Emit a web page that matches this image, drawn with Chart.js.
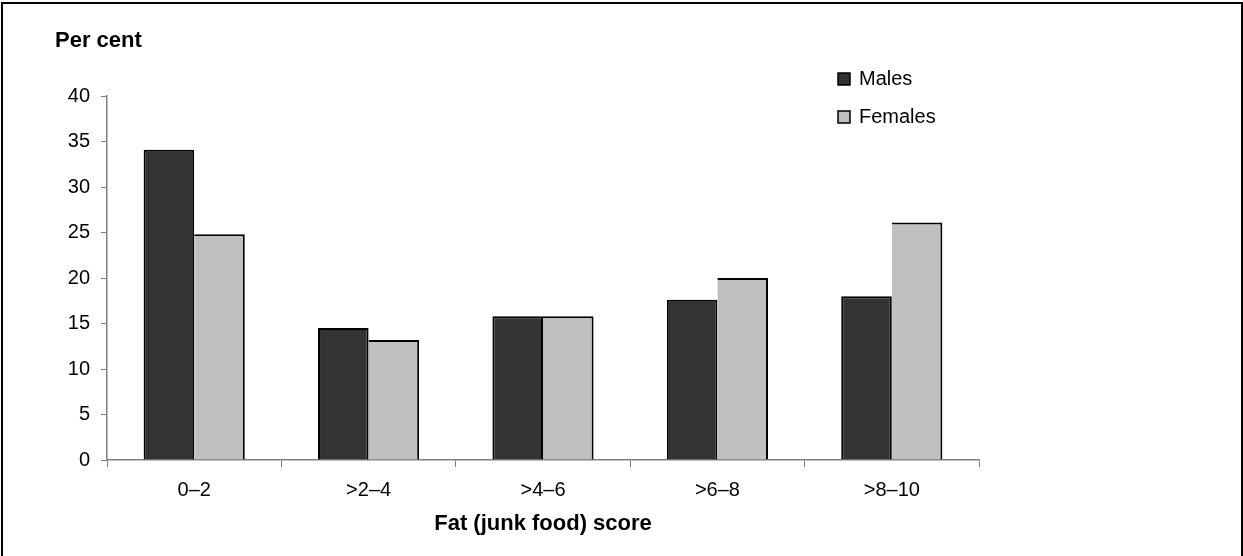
<!DOCTYPE html>
<html>
<head>
<meta charset="utf-8">
<title>Fat (junk food) score</title>
<script src="https://cdn.jsdelivr.net/npm/chart.js@4/dist/chart.umd.min.js"></script>
<style>
  html, body { margin: 0; padding: 0; background: #fff; overflow: hidden; }
  #wrap { position: relative; width: 1243px; height: 556px; }
  #frame { position: absolute; left: 1px; top: 2px; width: 1238px; height: 600px; border: 2px solid #000; box-sizing: content-box; }
  canvas { position: absolute; left: 0; top: 0; }
</style>
</head>
<body>
<div id="wrap">
  <div id="frame"></div>
  <canvas id="chart" width="1243" height="556"></canvas>
</div>
<script>
// data
const categories = ['0–2', '>2–4', '>4–6', '>6–8', '>8–10'];
const males = [34.1, 14.5, 15.8, 17.6, 18.0];
const females = [24.8, 13.2, 15.8, 20.0, 26.1];
const seriesNames = ['Males', 'Females'];
const yTitle = 'Per cent';
const xTitle = 'Fat (junk food) score';

const FONT = "'Liberation Sans', Arial, sans-serif";
const axisGrey = '#808080';

// "Per cent" sits horizontally above the y axis, and the legend is inside the plot
const extrasPlugin = {
  id: 'extras',
  afterDraw(chart) {
    const ctx = chart.ctx;
    ctx.save();
    ctx.fillStyle = '#000';
    ctx.font = 'bold 22px ' + FONT;
    ctx.textAlign = 'left';
    ctx.textBaseline = 'alphabetic';
    ctx.fillText(yTitle, 55, 47);

    // legend
    ctx.font = '20px ' + FONT;
    ctx.textBaseline = 'middle';
    chart.data.datasets.forEach(function(ds, i) {
      const y = 79 + i * 38;
      ctx.fillStyle = ds.backgroundColor;
      ctx.fillRect(838, y - 6, 12, 12);
      ctx.lineWidth = 1.5;
      ctx.strokeStyle = '#000';
      ctx.strokeRect(838, y - 6, 12, 12);
      ctx.fillStyle = '#000';
      ctx.fillText(ds.label, 859, y);
    });
    ctx.restore();
  }
};

const ctx = document.getElementById('chart').getContext('2d');
new Chart(ctx, {
  type: 'bar',
  data: {
    labels: categories,
    datasets: [
      {
        label: seriesNames[0],
        data: males,
        backgroundColor: '#333333',
        borderColor: '#000',
        borderWidth: { top: 2, left: 2, right: 2, bottom: 0 },
        borderSkipped: false
      },
      {
        label: seriesNames[1],
        data: females,
        backgroundColor: '#c0c0c0',
        borderColor: '#000',
        borderWidth: { top: 2, left: 0, right: 2, bottom: 0 },
        borderSkipped: false
      }
    ]
  },
  options: {
    responsive: false,
    devicePixelRatio: 1,
    animation: false,
    layout: { padding: { left: 0, right: 264, top: 96, bottom: 0 } },
    datasets: {
      bar: { barPercentage: 1, categoryPercentage: 0.58 }
    },
    scales: {
      x: {
        afterFit: function(scale) { scale.height = 96; },
        grid: {
          drawOnChartArea: false,
          drawTicks: true,
          tickLength: 7,
          color: axisGrey,
          offset: true
        },
        border: { color: axisGrey, width: 1.5 },
        ticks: {
          color: '#000',
          font: { family: FONT, size: 20 },
          padding: 11
        },
        title: {
          display: true,
          text: xTitle,
          color: '#000',
          font: { family: FONT, size: 22, weight: 'bold' },
          padding: { top: 0, bottom: 19 }
        }
      },
      y: {
        min: 0,
        max: 40,
        afterFit: function(scale) { scale.width = 107; },
        grid: {
          drawOnChartArea: false,
          drawTicks: true,
          tickLength: 6,
          color: axisGrey
        },
        border: { color: axisGrey, width: 1.5 },
        ticks: {
          stepSize: 5,
          color: '#000',
          font: { family: FONT, size: 20 },
          padding: 11
        }
      }
    },
    plugins: {
      legend: { display: false },
      tooltip: { enabled: false }
    }
  },
  plugins: [extrasPlugin]
});
</script>
</body>
</html>
